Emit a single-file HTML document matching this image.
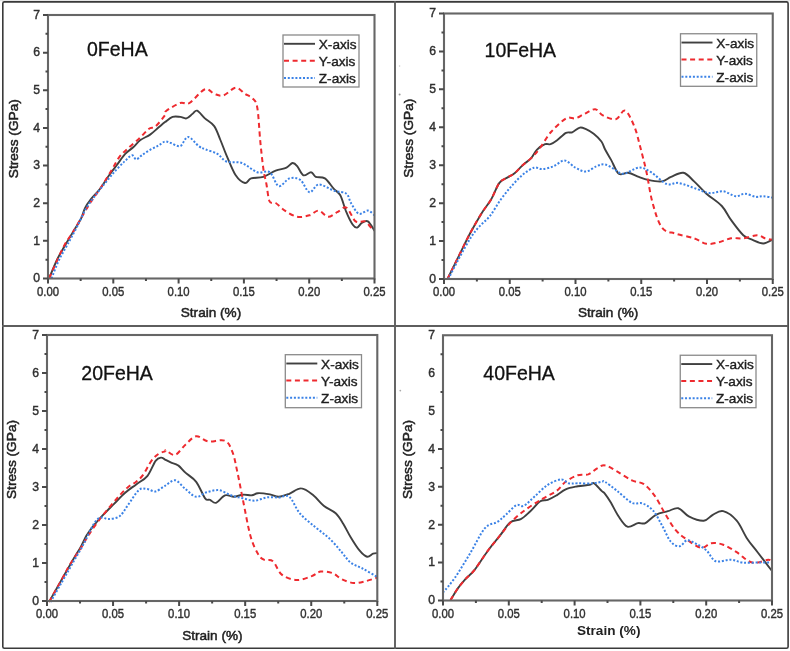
<!DOCTYPE html>
<html><head><meta charset="utf-8"><title>Stress-strain curves</title>
<style>
html,body{margin:0;padding:0;background:#fff;}
body{width:790px;height:651px;overflow:hidden;}
svg{display:block;filter:blur(0.3px);font-family:"Liberation Sans", sans-serif;}
</style></head><body>
<svg width="790" height="651" viewBox="0 0 790 651">
<rect x="0" y="0" width="790" height="651" fill="#fff"/>
<rect x="0" y="0" width="790" height="1.2" fill="#e6e6e6"/>
<rect x="2.8" y="1.9" width="785.3" height="646.4" fill="none" stroke="#3a3a3a" stroke-width="1.6" rx="1.6"/>
<circle cx="399.6" cy="94.4" r="1" fill="#999"/><circle cx="399.6" cy="66" r="0.8" fill="#ccc"/><circle cx="400.3" cy="390.6" r="0.9" fill="#aaa"/>
<line x1="395" y1="1" x2="395" y2="649" stroke="#5e5e5e" stroke-width="1.9"/>
<line x1="2" y1="326" x2="788" y2="326" stroke="#5e5e5e" stroke-width="1.9"/>
<g>
<path d="M49.1,278.3 C50.5,275.1 54.8,264.3 57.4,259.0 C60.0,253.7 61.9,250.9 64.4,246.5 C66.9,242.1 69.8,237.3 72.6,232.7 C75.3,228.1 78.8,223.1 80.9,218.9 C83.0,214.8 83.5,211.0 85.1,207.8 C86.7,204.6 88.1,202.7 90.6,199.5 C93.1,196.3 97.3,192.4 100.3,188.5 C103.3,184.6 105.8,179.9 108.6,176.0 C111.4,172.1 114.1,168.7 116.9,165.0 C119.7,161.3 122.4,156.9 125.2,153.9 C128.0,150.9 131.0,149.3 133.5,147.0 C136.0,144.7 137.6,142.2 140.4,140.1 C143.2,138.0 147.1,136.7 150.1,134.6 C153.1,132.5 155.9,129.7 158.4,127.6 C160.9,125.5 162.6,123.9 165.0,122.1 C167.4,120.3 170.0,117.8 172.6,116.9 C175.2,116.0 178.0,116.7 180.3,116.9 C182.6,117.2 184.4,118.9 186.4,118.4 C188.4,117.9 190.8,115.1 192.6,113.8 C194.4,112.5 195.1,109.9 197.2,110.7 C199.2,111.5 202.1,115.8 204.9,118.4 C207.7,121.0 211.6,122.5 214.2,126.1 C216.8,129.7 218.3,135.1 220.4,140.0 C222.5,144.9 223.9,149.4 226.5,155.3 C229.1,161.2 232.6,170.7 235.7,175.3 C238.8,179.9 242.4,182.5 245.0,183.0 C247.6,183.5 248.0,179.4 251.1,178.4 C254.2,177.4 259.3,178.1 263.4,176.8 C267.5,175.5 271.8,172.2 275.7,170.7 C279.6,169.2 283.7,168.9 286.5,167.6 C289.3,166.3 290.8,163.2 292.6,163.0 C294.4,162.8 295.4,164.0 297.2,166.1 C299.0,168.2 301.1,174.3 303.4,175.3 C305.7,176.3 309.1,171.9 311.1,172.2 C313.2,172.4 313.4,175.8 315.7,176.8 C318.0,177.8 321.8,176.4 324.9,178.4 C328.0,180.4 331.5,186.3 334.1,189.1 C336.7,191.9 338.2,191.5 340.3,195.3 C342.4,199.2 344.3,207.3 346.4,212.2 C348.4,217.1 350.8,221.9 352.6,224.5 C354.4,227.1 355.7,227.9 357.2,227.6 C358.7,227.3 360.0,223.9 361.8,222.9 C363.6,221.9 365.8,220.1 367.9,221.4 C370.0,222.7 373.4,229.1 374.5,230.6" fill="none" stroke="#404040" stroke-width="1.9"/>
<path d="M49.1,278.3 C50.0,276.2 52.2,271.4 54.7,265.9 C57.2,260.4 61.4,250.7 64.4,245.2 C67.4,239.7 69.6,237.5 72.6,232.7 C75.6,227.8 79.3,221.2 82.3,216.1 C85.3,211.0 87.6,206.9 90.6,202.3 C93.6,197.7 96.8,193.8 100.3,188.5 C103.8,183.2 108.2,175.8 111.4,170.5 C114.6,165.2 116.8,160.4 119.6,156.7 C122.3,153.0 124.7,151.4 127.9,148.4 C131.1,145.4 135.5,141.9 139.0,138.7 C142.5,135.5 145.9,131.1 148.7,129.0 C151.5,126.9 152.9,128.6 155.6,126.3 C158.3,124.0 163.2,117.8 165.0,115.2 C166.8,112.6 163.8,112.7 166.4,110.7 C169.0,108.7 176.5,104.3 180.3,103.0 C184.2,101.7 185.4,105.3 189.5,103.0 C193.6,100.7 200.8,90.7 204.9,89.2 C209.0,87.7 211.1,92.8 214.2,93.8 C217.3,94.8 219.8,96.4 223.4,95.4 C227.0,94.4 232.1,88.0 235.7,87.7 C239.3,87.4 242.2,92.0 245.0,93.8 C247.8,95.6 250.5,96.1 252.6,98.4 C254.7,100.7 256.0,100.5 257.3,107.7 C258.6,114.9 259.3,131.3 260.3,141.5 C261.3,151.7 262.4,161.9 263.4,169.1 C264.4,176.3 265.5,179.1 266.5,184.5 C267.5,189.9 268.1,198.3 269.6,201.4 C271.1,204.5 273.1,201.5 275.7,203.0 C278.2,204.5 281.3,208.3 284.9,210.6 C288.5,212.9 293.1,216.0 297.2,216.8 C301.3,217.6 305.9,216.3 309.5,215.3 C313.1,214.3 315.6,210.3 318.7,210.6 C321.8,210.8 324.9,216.5 328.0,216.8 C331.1,217.1 334.1,213.7 337.2,212.2 C340.3,210.7 343.3,206.1 346.4,207.6 C349.5,209.1 352.5,219.1 355.6,221.4 C358.7,223.7 362.3,220.4 364.9,221.4 C367.5,222.4 369.4,226.1 371.0,227.6 C372.6,229.1 373.9,230.1 374.5,230.6" fill="none" stroke="#ee2a2f" stroke-width="2" stroke-dasharray="5 3.6"/>
<path d="M51.5,278.3 C52.7,275.3 56.2,265.9 58.8,260.4 C61.4,254.9 64.1,250.7 67.1,245.2 C70.1,239.7 73.6,233.4 76.8,227.2 C80.0,221.0 83.0,213.6 86.5,207.8 C90.0,202.0 93.8,197.4 97.5,192.6 C101.2,187.8 105.4,182.7 108.6,178.8 C111.8,174.9 114.1,172.1 116.9,169.1 C119.7,166.1 122.7,163.1 125.2,160.8 C127.7,158.5 130.3,155.5 132.1,155.3 C133.9,155.1 134.6,159.4 136.2,159.4 C137.8,159.4 139.5,156.9 141.8,155.3 C144.1,153.7 147.3,151.4 150.1,149.8 C152.9,148.2 155.9,147.0 158.4,145.6 C160.9,144.2 162.9,141.9 165.0,141.5 C167.1,141.1 168.4,142.2 171.0,143.0 C173.6,143.8 177.5,147.1 180.3,146.1 C183.1,145.1 184.9,136.9 188.0,136.9 C191.1,136.9 195.9,144.1 198.7,146.1 C201.5,148.1 201.9,147.9 205.0,149.2 C208.1,150.5 213.7,151.8 217.3,153.8 C220.9,155.9 222.4,160.0 226.5,161.5 C230.6,163.0 236.8,161.2 241.9,163.0 C247.0,164.8 252.7,170.7 257.3,172.2 C261.9,173.7 266.0,169.9 269.6,172.2 C273.2,174.5 275.5,185.1 278.8,186.1 C282.1,187.1 285.9,179.4 289.5,178.4 C293.1,177.4 297.0,177.6 300.3,179.9 C303.6,182.2 306.4,191.4 309.5,192.2 C312.6,193.0 314.6,184.8 318.7,184.5 C322.8,184.2 329.5,189.2 334.1,190.7 C338.7,192.2 343.6,191.6 346.4,193.7 C349.2,195.8 348.9,199.7 351.0,203.0 C353.1,206.3 355.9,212.4 358.7,213.7 C361.5,215.0 365.3,210.3 367.9,210.6 C370.5,210.9 373.4,214.5 374.5,215.3" fill="none" stroke="#3b82e6" stroke-width="2" stroke-dasharray="2 1.8"/>
<rect x="48" y="15" width="326.50" height="263.50" fill="none" stroke="#666" stroke-width="2.1"/>
<path d="M43.0,278.50H48M45.5,259.68H48M43.0,240.86H48M45.5,222.04H48M43.0,203.21H48M45.5,184.39H48M43.0,165.57H48M45.5,146.75H48M43.0,127.93H48M45.5,109.11H48M43.0,90.29H48M45.5,71.46H48M43.0,52.64H48M45.5,33.82H48M43.0,15.00H48M48.00,278.5V283.5M80.65,278.5V281.0M113.30,278.5V283.5M145.95,278.5V281.0M178.60,278.5V283.5M211.25,278.5V281.0M243.90,278.5V283.5M276.55,278.5V281.0M309.20,278.5V283.5M341.85,278.5V281.0M374.50,278.5V283.5" stroke="#4a4a4a" stroke-width="2" fill="none"/>
<g font-size="12.2" fill="#303030" stroke="#303030" stroke-width="0.4" text-anchor="end"><text x="40.0" y="282.30">0</text><text x="40.0" y="244.66">1</text><text x="40.0" y="207.01">2</text><text x="40.0" y="169.37">3</text><text x="40.0" y="131.73">4</text><text x="40.0" y="94.09">5</text><text x="40.0" y="56.44">6</text><text x="40.0" y="18.80">7</text></g>
<g font-size="12.3" fill="#303030" stroke="#303030" stroke-width="0.4" text-anchor="middle"><text x="48.00" y="295.9" textLength="22" lengthAdjust="spacingAndGlyphs">0.00</text><text x="113.30" y="295.9" textLength="22" lengthAdjust="spacingAndGlyphs">0.05</text><text x="178.60" y="295.9" textLength="22" lengthAdjust="spacingAndGlyphs">0.10</text><text x="243.90" y="295.9" textLength="22" lengthAdjust="spacingAndGlyphs">0.15</text><text x="309.20" y="295.9" textLength="22" lengthAdjust="spacingAndGlyphs">0.20</text><text x="374.50" y="295.9" textLength="22" lengthAdjust="spacingAndGlyphs">0.25</text></g>
<text transform="translate(18.1,138.7) rotate(-90)" font-size="13.7" fill="#222" stroke="#222" stroke-width="0.5" text-anchor="middle">Stress (GPa)</text>
<text x="211.0" y="317.0" font-size="13.6" font-weight="normal" fill="#222" stroke="#222" stroke-width="0.5" text-anchor="middle">Strain (%)</text>
<text x="87.0" y="56" font-size="19.5" fill="#111" stroke="#111" stroke-width="0.3">0FeHA</text>
<rect x="283" y="35" width="76.00" height="52.00" fill="#fff" stroke="#8a8a8a" stroke-width="1.3"/>
<line x1="284" y1="43.8" x2="315" y2="43.8" stroke="#404040" stroke-width="1.9"/>
<line x1="284" y1="60.8" x2="315" y2="60.8" stroke="#ee2a2f" stroke-width="2" stroke-dasharray="5 3.6"/>
<line x1="284" y1="78" x2="315" y2="78" stroke="#3b82e6" stroke-width="2" stroke-dasharray="2 1.8"/>
<g font-size="13.6" fill="#1e1e1e" stroke="#1e1e1e" stroke-width="0.4"><text x="318.8" y="48.8">X-axis</text><text x="318.8" y="65.8">Y-axis</text><text x="318.8" y="83.0">Z-axis</text></g>
</g>
<g>
<path d="M447.5,279.0 C449.5,275.0 455.6,262.5 459.4,254.8 C463.2,247.1 466.7,239.6 470.4,232.7 C474.1,225.8 478.1,218.9 481.5,213.4 C484.9,207.9 488.1,204.6 491.1,199.5 C494.1,194.4 496.6,186.6 499.4,182.9 C502.2,179.2 505.2,179.0 507.7,177.4 C510.2,175.8 512.1,175.4 514.6,173.3 C517.1,171.2 520.1,167.5 522.9,165.0 C525.7,162.5 528.9,160.6 531.2,158.1 C533.5,155.6 534.5,152.1 536.8,149.8 C539.1,147.5 542.8,145.1 545.1,144.2 C547.4,143.3 548.7,144.8 550.6,144.2 C552.5,143.6 554.2,142.4 556.8,140.5 C559.4,138.6 563.4,134.3 566.0,132.9 C568.6,131.5 569.9,133.2 572.2,132.3 C574.5,131.4 577.6,128.1 579.9,127.6 C582.2,127.1 583.7,128.2 586.0,129.2 C588.3,130.2 591.1,131.8 593.7,133.8 C596.3,135.9 599.5,138.9 601.4,141.5 C603.3,144.1 603.4,146.1 605.0,149.2 C606.6,152.3 608.8,155.8 611.1,159.9 C613.4,164.0 616.0,171.7 618.8,173.8 C621.6,176.0 624.8,172.3 628.1,172.8 C631.4,173.3 635.5,175.6 638.8,176.8 C642.1,178.0 644.1,179.1 648.0,179.9 C651.9,180.7 658.0,181.9 661.9,181.4 C665.8,180.9 667.5,178.2 671.1,176.8 C674.7,175.4 679.6,172.0 683.4,172.8 C687.2,173.6 690.3,177.9 694.1,181.4 C697.9,184.9 701.8,189.6 706.4,193.7 C711.0,197.8 717.7,201.6 721.8,206.0 C725.9,210.4 727.4,215.0 731.0,219.9 C734.6,224.8 739.7,231.9 743.3,235.2 C746.9,238.5 749.3,238.5 752.6,239.9 C755.9,241.3 759.9,243.6 763.3,243.5 C766.7,243.4 771.2,240.2 772.8,239.5" fill="none" stroke="#404040" stroke-width="1.9"/>
<path d="M447.5,279.0 C449.5,275.0 455.6,262.5 459.4,254.8 C463.2,247.1 466.7,239.6 470.4,232.7 C474.1,225.8 478.1,218.9 481.5,213.4 C484.9,207.9 488.1,204.6 491.1,199.5 C494.1,194.4 496.6,186.6 499.4,182.9 C502.2,179.2 505.2,179.0 507.7,177.4 C510.2,175.8 512.1,175.4 514.6,173.3 C517.1,171.2 520.1,167.5 522.9,165.0 C525.7,162.5 528.4,160.9 531.2,158.1 C534.1,155.3 536.7,152.3 540.0,148.0 C543.3,143.7 546.7,136.9 551.0,132.0 C555.3,127.1 562.0,120.7 566.0,118.4 C570.0,116.1 572.2,119.2 575.3,118.4 C578.4,117.6 581.2,115.3 584.5,113.8 C587.8,112.3 592.1,108.9 595.2,109.2 C598.3,109.5 599.5,113.7 602.9,115.4 C606.3,117.1 612.1,120.1 615.8,119.3 C619.5,118.5 621.9,109.6 625.0,110.7 C628.1,111.8 631.6,119.9 634.2,126.1 C636.8,132.2 638.4,139.9 640.4,147.6 C642.4,155.3 644.5,163.0 646.5,172.2 C648.5,181.4 650.0,193.8 652.6,203.0 C655.2,212.2 658.0,222.5 661.9,227.6 C665.8,232.7 670.3,231.9 675.7,233.7 C681.1,235.5 689.0,236.6 694.1,238.3 C699.2,240.0 702.3,243.1 706.4,243.8 C710.5,244.5 714.6,243.2 718.7,242.3 C722.8,241.4 726.9,239.0 731.0,238.3 C735.1,237.6 738.9,238.8 743.3,238.3 C747.7,237.8 753.6,235.2 757.2,235.2 C760.8,235.2 762.3,237.5 764.9,238.3 C767.5,239.1 771.4,239.6 772.8,239.9" fill="none" stroke="#ee2a2f" stroke-width="2" stroke-dasharray="5 3.6"/>
<path d="M448.3,279.0 C450.1,275.4 455.7,264.4 459.4,257.6 C463.1,250.8 467.2,243.3 470.4,238.2 C473.6,233.1 475.5,230.9 478.7,227.2 C481.9,223.5 486.1,220.7 489.8,216.1 C493.5,211.5 497.1,204.6 500.8,199.5 C504.5,194.4 508.2,189.8 511.9,185.7 C515.6,181.5 519.2,177.6 522.9,174.6 C526.6,171.6 530.8,168.6 534.0,167.7 C537.2,166.8 539.1,169.3 542.3,169.1 C545.5,168.9 549.7,167.8 553.4,166.4 C557.1,165.0 560.9,160.3 564.5,160.5 C568.1,160.7 571.7,165.8 575.3,167.6 C578.9,169.4 582.4,171.8 586.0,171.6 C589.6,171.3 593.6,167.3 596.8,166.1 C600.0,164.9 602.1,164.0 605.0,164.5 C607.9,165.0 611.1,167.5 614.2,169.1 C617.3,170.7 619.3,174.1 623.4,173.8 C627.5,173.6 634.2,167.9 638.8,167.6 C643.4,167.3 646.5,169.5 651.1,172.2 C655.7,174.9 661.9,182.1 666.5,183.9 C671.1,185.7 673.7,182.1 678.8,183.0 C683.9,183.9 692.1,187.4 697.2,189.1 C702.3,190.8 705.1,192.7 709.5,193.1 C713.9,193.5 718.9,190.8 723.3,191.3 C727.6,191.8 732.0,195.8 735.6,196.2 C739.2,196.6 741.6,193.6 744.9,193.7 C748.2,193.8 752.5,196.4 755.6,196.8 C758.7,197.2 760.4,196.0 763.3,196.2 C766.2,196.3 771.2,197.4 772.8,197.7" fill="none" stroke="#3b82e6" stroke-width="2" stroke-dasharray="2 1.8"/>
<rect x="444" y="13.5" width="328.75" height="265.50" fill="none" stroke="#666" stroke-width="2.1"/>
<path d="M439.0,279.00H444M441.5,260.04H444M439.0,241.07H444M441.5,222.11H444M439.0,203.14H444M441.5,184.18H444M439.0,165.21H444M441.5,146.25H444M439.0,127.29H444M441.5,108.32H444M439.0,89.36H444M441.5,70.39H444M439.0,51.43H444M441.5,32.46H444M439.0,13.50H444M444.00,279V284.0M476.88,279V281.5M509.75,279V284.0M542.62,279V281.5M575.50,279V284.0M608.38,279V281.5M641.25,279V284.0M674.12,279V281.5M707.00,279V284.0M739.88,279V281.5M772.75,279V284.0" stroke="#4a4a4a" stroke-width="2" fill="none"/>
<g font-size="12.2" fill="#303030" stroke="#303030" stroke-width="0.4" text-anchor="end"><text x="436.0" y="282.80">0</text><text x="436.0" y="244.87">1</text><text x="436.0" y="206.94">2</text><text x="436.0" y="169.01">3</text><text x="436.0" y="131.09">4</text><text x="436.0" y="93.16">5</text><text x="436.0" y="55.23">6</text><text x="436.0" y="17.30">7</text></g>
<g font-size="12.3" fill="#303030" stroke="#303030" stroke-width="0.4" text-anchor="middle"><text x="444.00" y="296.4" textLength="22" lengthAdjust="spacingAndGlyphs">0.00</text><text x="509.75" y="296.4" textLength="22" lengthAdjust="spacingAndGlyphs">0.05</text><text x="575.50" y="296.4" textLength="22" lengthAdjust="spacingAndGlyphs">0.10</text><text x="641.25" y="296.4" textLength="22" lengthAdjust="spacingAndGlyphs">0.15</text><text x="707.00" y="296.4" textLength="22" lengthAdjust="spacingAndGlyphs">0.20</text><text x="772.75" y="296.4" textLength="22" lengthAdjust="spacingAndGlyphs">0.25</text></g>
<text transform="translate(412.7,138.2) rotate(-90)" font-size="13.7" fill="#222" stroke="#222" stroke-width="0.5" text-anchor="middle">Stress (GPa)</text>
<text x="608.1" y="317.4" font-size="13.6" font-weight="normal" fill="#222" stroke="#222" stroke-width="0.5" text-anchor="middle">Strain (%)</text>
<text x="484.6" y="56.5" font-size="19.5" fill="#111" stroke="#111" stroke-width="0.3">10FeHA</text>
<rect x="680.5" y="33.75" width="76.25" height="52.55" fill="#fff" stroke="#8a8a8a" stroke-width="1.3"/>
<line x1="681.5" y1="42.55" x2="712.5" y2="42.55" stroke="#404040" stroke-width="1.9"/>
<line x1="681.5" y1="59.55" x2="712.5" y2="59.55" stroke="#ee2a2f" stroke-width="2" stroke-dasharray="5 3.6"/>
<line x1="681.5" y1="76.75" x2="712.5" y2="76.75" stroke="#3b82e6" stroke-width="2" stroke-dasharray="2 1.8"/>
<g font-size="13.6" fill="#1e1e1e" stroke="#1e1e1e" stroke-width="0.4"><text x="716.3" y="47.5">X-axis</text><text x="716.3" y="64.5">Y-axis</text><text x="716.3" y="81.8">Z-axis</text></g>
</g>
<g>
<path d="M49.1,601.9 C51.2,598.2 57.7,586.7 61.6,579.8 C65.5,572.9 69.4,566.0 72.6,560.5 C75.8,555.0 78.6,550.8 80.9,546.6 C83.2,542.5 84.4,539.1 86.5,535.6 C88.6,532.1 90.6,529.4 93.4,525.9 C96.2,522.4 99.6,518.6 103.1,514.9 C106.5,511.2 110.4,507.5 114.1,503.8 C117.8,500.1 121.5,495.9 125.2,492.7 C128.9,489.5 132.5,487.2 136.2,484.4 C139.9,481.6 144.1,480.0 147.3,476.1 C150.5,472.2 153.3,464.0 155.6,460.9 C157.9,457.8 159.5,457.8 161.1,457.6 C162.7,457.4 163.4,458.8 165.0,459.6 C166.6,460.4 168.5,461.4 170.7,462.4 C172.9,463.4 175.7,463.6 178.2,465.4 C180.7,467.1 182.7,470.2 185.7,472.9 C188.7,475.6 193.0,477.6 196.2,481.8 C199.4,486.0 202.8,495.3 205.1,498.3 C207.4,501.3 208.2,499.1 210.0,499.8 C211.8,500.6 213.5,503.6 216.0,502.8 C218.5,502.1 222.0,496.3 225.0,495.3 C228.0,494.3 230.9,496.9 233.9,496.8 C236.9,496.7 239.9,494.9 242.9,494.7 C245.9,494.4 249.4,495.6 251.9,495.3 C254.4,495.1 254.9,493.4 257.9,493.2 C260.9,493.0 266.4,493.8 269.9,494.4 C273.4,495.0 275.6,496.9 278.8,496.8 C282.0,496.7 285.6,495.2 289.3,493.8 C293.1,492.4 297.3,488.1 301.3,488.4 C305.3,488.6 309.6,492.4 313.3,495.3 C317.0,498.2 320.0,502.8 323.7,505.8 C327.4,508.8 332.4,510.3 335.7,513.3 C338.9,516.3 340.7,519.7 343.2,523.7 C345.7,527.7 347.9,532.7 350.7,537.2 C353.4,541.7 357.0,547.5 359.7,550.7 C362.4,554.0 364.9,556.2 367.1,556.7 C369.3,557.2 371.4,554.3 373.1,553.7 C374.8,553.1 376.6,553.2 377.3,553.1" fill="none" stroke="#404040" stroke-width="1.9"/>
<path d="M49.1,601.9 C51.2,598.2 58.1,586.0 61.6,579.8 C65.1,573.6 66.7,569.9 69.9,564.6 C73.1,559.3 77.7,553.1 80.9,548.0 C84.1,542.9 86.2,538.8 89.2,534.2 C92.2,529.6 95.4,525.0 98.9,520.4 C102.4,515.8 106.5,510.8 110.0,506.6 C113.5,502.5 116.6,498.7 119.6,495.5 C122.6,492.3 125.1,489.5 127.9,487.2 C130.7,484.9 133.7,483.8 136.2,481.7 C138.7,479.6 140.6,478.3 143.1,474.8 C145.6,471.3 148.8,464.4 151.4,460.9 C154.0,457.4 156.1,455.6 158.4,454.0 C160.7,452.4 163.7,451.9 165.0,451.3 C166.3,450.7 164.5,449.8 166.2,450.4 C167.9,451.0 171.9,455.9 175.2,454.9 C178.4,453.9 182.2,447.5 185.7,444.4 C189.2,441.3 192.5,436.8 196.2,436.3 C199.9,435.8 203.3,440.6 208.1,441.4 C212.9,442.1 220.9,439.1 225.0,440.8 C229.1,442.6 230.4,447.0 232.4,451.9 C234.4,456.8 235.2,461.9 236.9,469.9 C238.7,477.9 240.7,488.8 242.9,499.8 C245.2,510.8 247.9,526.7 250.4,535.7 C252.9,544.7 255.6,549.7 257.9,553.7 C260.1,557.7 261.4,558.5 263.9,559.7 C266.4,561.0 269.9,558.7 272.9,561.2 C275.9,563.7 277.8,571.5 281.8,574.6 C285.8,577.7 291.8,579.8 296.8,580.0 C301.8,580.2 307.8,577.5 311.8,576.1 C315.8,574.7 317.2,572.1 320.7,571.6 C324.2,571.1 329.2,571.9 332.7,573.1 C336.2,574.4 338.2,577.5 341.7,579.1 C345.2,580.8 349.7,582.6 353.7,583.0 C357.7,583.4 361.7,582.1 365.6,581.2 C369.5,580.3 375.4,578.2 377.3,577.6" fill="none" stroke="#ee2a2f" stroke-width="2" stroke-dasharray="5 3.6"/>
<path d="M50.5,601.9 C52.4,598.7 57.9,589.0 61.6,582.6 C65.3,576.2 68.9,569.7 72.6,563.2 C76.3,556.8 80.2,550.4 83.7,543.9 C87.2,537.4 90.6,528.9 93.4,524.5 C96.2,520.1 97.8,518.5 100.3,517.6 C102.8,516.7 105.4,519.2 108.6,519.0 C111.8,518.8 116.4,518.5 119.6,516.2 C122.8,513.9 124.7,509.6 127.9,505.2 C131.1,500.8 135.8,492.7 139.0,490.0 C142.2,487.3 144.5,488.9 147.3,489.1 C150.1,489.3 152.7,491.9 155.6,491.4 C158.5,490.8 161.7,487.6 165.0,485.8 C168.3,484.0 171.8,479.7 175.2,480.3 C178.6,480.9 182.2,486.6 185.7,489.3 C189.2,492.1 192.7,496.3 196.2,496.8 C199.7,497.3 202.8,493.4 206.6,492.3 C210.4,491.2 214.9,489.7 219.0,490.2 C223.1,490.7 227.0,493.9 231.0,495.3 C235.0,496.7 238.9,497.4 242.9,498.3 C246.9,499.2 250.9,500.9 254.9,500.7 C258.9,500.5 262.9,497.9 266.9,497.4 C270.9,496.8 275.1,497.5 278.8,497.4 C282.5,497.3 285.8,494.2 289.3,496.8 C292.8,499.4 295.6,508.3 299.8,513.3 C304.1,518.3 309.8,522.5 314.8,526.7 C319.8,530.9 325.2,534.5 329.7,538.7 C334.2,543.0 338.2,548.2 341.7,552.2 C345.2,556.2 347.2,559.9 350.7,562.6 C354.2,565.3 358.3,566.2 362.7,568.6 C367.1,571.0 374.9,575.6 377.3,577.0" fill="none" stroke="#3b82e6" stroke-width="2" stroke-dasharray="2 1.8"/>
<rect x="47" y="335" width="330.30" height="266.00" fill="none" stroke="#666" stroke-width="2.1"/>
<path d="M42.0,601.00H47M44.5,582.00H47M42.0,563.00H47M44.5,544.00H47M42.0,525.00H47M44.5,506.00H47M42.0,487.00H47M44.5,468.00H47M42.0,449.00H47M44.5,430.00H47M42.0,411.00H47M44.5,392.00H47M42.0,373.00H47M44.5,354.00H47M42.0,335.00H47M47.00,601V606.0M80.03,601V603.5M113.06,601V606.0M146.09,601V603.5M179.12,601V606.0M212.15,601V603.5M245.18,601V606.0M278.21,601V603.5M311.24,601V606.0M344.27,601V603.5M377.30,601V606.0" stroke="#4a4a4a" stroke-width="2" fill="none"/>
<g font-size="12.2" fill="#303030" stroke="#303030" stroke-width="0.4" text-anchor="end"><text x="39.0" y="604.80">0</text><text x="39.0" y="566.80">1</text><text x="39.0" y="528.80">2</text><text x="39.0" y="490.80">3</text><text x="39.0" y="452.80">4</text><text x="39.0" y="414.80">5</text><text x="39.0" y="376.80">6</text><text x="39.0" y="338.80">7</text></g>
<g font-size="12.3" fill="#303030" stroke="#303030" stroke-width="0.4" text-anchor="middle"><text x="47.00" y="618.4" textLength="22" lengthAdjust="spacingAndGlyphs">0.00</text><text x="113.06" y="618.4" textLength="22" lengthAdjust="spacingAndGlyphs">0.05</text><text x="179.12" y="618.4" textLength="22" lengthAdjust="spacingAndGlyphs">0.10</text><text x="245.18" y="618.4" textLength="22" lengthAdjust="spacingAndGlyphs">0.15</text><text x="311.24" y="618.4" textLength="22" lengthAdjust="spacingAndGlyphs">0.20</text><text x="377.30" y="618.4" textLength="22" lengthAdjust="spacingAndGlyphs">0.25</text></g>
<text transform="translate(15.7,459.5) rotate(-90)" font-size="13.7" fill="#222" stroke="#222" stroke-width="0.5" text-anchor="middle">Stress (GPa)</text>
<text x="212.4" y="640.4" font-size="13.6" font-weight="normal" fill="#222" stroke="#222" stroke-width="0.5" text-anchor="middle">Strain (%)</text>
<text x="81.3" y="379.5" font-size="19.5" fill="#111" stroke="#111" stroke-width="0.3">20FeHA</text>
<rect x="285.3" y="354.7" width="76.20" height="53.00" fill="#fff" stroke="#8a8a8a" stroke-width="1.3"/>
<line x1="286.3" y1="363.5" x2="317.3" y2="363.5" stroke="#404040" stroke-width="1.9"/>
<line x1="286.3" y1="380.5" x2="317.3" y2="380.5" stroke="#ee2a2f" stroke-width="2" stroke-dasharray="5 3.6"/>
<line x1="286.3" y1="397.7" x2="317.3" y2="397.7" stroke="#3b82e6" stroke-width="2" stroke-dasharray="2 1.8"/>
<g font-size="13.6" fill="#1e1e1e" stroke="#1e1e1e" stroke-width="0.4"><text x="321.1" y="368.5">X-axis</text><text x="321.1" y="385.5">Y-axis</text><text x="321.1" y="402.7">Z-axis</text></g>
</g>
<g>
<path d="M450.5,600.1 C451.8,598.1 455.5,591.6 458.0,588.1 C460.5,584.6 462.7,582.1 465.4,579.1 C468.1,576.1 470.6,574.8 474.4,570.1 C478.1,565.4 483.6,556.4 487.9,550.7 C492.1,545.0 496.2,540.5 499.9,535.7 C503.6,531.0 506.8,525.0 510.3,522.2 C513.8,519.5 517.5,520.9 520.8,519.2 C524.0,517.5 526.5,514.8 529.8,511.8 C533.0,508.8 537.3,503.3 540.3,501.3 C543.3,499.3 545.1,500.8 547.8,499.8 C550.5,498.8 553.7,497.1 556.7,495.3 C559.7,493.6 562.2,490.8 565.7,489.3 C569.2,487.8 573.7,487.1 577.7,486.3 C581.7,485.6 587.0,485.3 589.7,484.8 C592.4,484.3 592.1,482.3 594.1,483.3 C596.1,484.3 599.8,489.1 601.6,490.8 C603.4,492.6 603.4,491.8 605.0,493.8 C606.6,495.8 608.8,499.1 611.0,502.8 C613.2,506.6 615.8,512.3 618.5,516.3 C621.2,520.3 624.2,525.6 627.4,526.7 C630.6,527.8 634.9,523.7 637.9,523.1 C640.9,522.5 642.4,524.5 645.4,523.1 C648.4,521.7 652.1,516.8 655.9,514.8 C659.6,512.8 664.2,512.3 667.9,511.2 C671.6,510.1 674.8,507.4 678.3,508.2 C681.8,509.0 684.5,514.2 688.8,516.3 C693.0,518.4 699.8,521.0 703.8,520.7 C707.8,520.5 709.6,516.4 712.8,514.8 C716.0,513.2 719.2,510.2 723.2,511.2 C727.2,512.2 732.7,516.1 736.7,520.7 C740.7,525.3 743.7,533.5 747.2,538.7 C750.7,544.0 753.5,546.8 757.6,552.2 C761.7,557.6 769.6,567.9 772.0,571.0" fill="none" stroke="#404040" stroke-width="1.9"/>
<path d="M450.5,600.1 C451.8,598.1 455.5,591.6 458.0,588.1 C460.5,584.6 462.7,582.1 465.4,579.1 C468.1,576.1 470.6,574.8 474.4,570.1 C478.1,565.4 483.6,556.4 487.9,550.7 C492.1,545.0 495.9,540.6 499.9,535.7 C503.9,530.8 507.3,525.8 511.8,521.3 C516.3,516.8 521.5,512.6 526.8,508.8 C532.0,505.0 538.3,501.3 543.3,498.3 C548.3,495.3 553.0,493.6 556.7,490.8 C560.4,488.1 562.2,484.4 565.7,481.8 C569.2,479.2 574.0,476.5 577.7,475.3 C581.5,474.1 585.0,475.5 588.2,474.4 C591.4,473.2 594.3,469.9 597.1,468.4 C599.9,466.9 601.7,464.9 605.0,465.4 C608.3,465.9 612.5,468.9 617.0,471.4 C621.5,473.9 627.4,478.2 631.9,480.3 C636.4,482.4 640.1,481.7 643.9,484.2 C647.6,486.7 650.9,490.5 654.4,495.3 C657.9,500.1 661.4,507.6 664.9,513.3 C668.4,519.0 671.8,525.5 675.3,529.7 C678.8,533.9 681.5,535.7 685.8,538.7 C690.0,541.7 696.5,547.0 700.8,547.7 C705.0,548.5 707.6,543.7 711.3,543.2 C715.0,542.7 719.0,543.2 723.2,544.7 C727.4,546.2 732.5,549.5 736.7,552.2 C741.0,555.0 745.2,559.5 748.7,561.2 C752.2,562.9 754.4,562.9 757.6,562.6 C760.8,562.4 765.7,559.9 768.1,559.7 C770.5,559.5 771.4,561.0 772.0,561.2" fill="none" stroke="#ee2a2f" stroke-width="2" stroke-dasharray="5 3.6"/>
<path d="M443.0,592.6 C445.0,590.1 450.5,584.1 455.0,577.6 C459.5,571.1 464.9,561.9 469.9,553.7 C474.9,545.5 480.4,533.5 484.9,528.2 C489.4,523.0 493.4,524.4 496.9,522.2 C500.4,520.0 502.6,517.6 505.8,514.8 C509.0,512.0 513.3,506.7 516.3,505.2 C519.3,503.7 520.8,507.2 523.8,505.8 C526.8,504.4 530.3,500.3 534.3,496.8 C538.3,493.3 543.3,487.7 547.8,484.8 C552.3,481.9 557.7,479.6 561.2,479.4 C564.7,479.1 566.0,482.6 568.7,483.3 C571.5,484.0 573.7,483.3 577.7,483.3 C581.7,483.3 588.6,483.6 592.6,483.3 C596.6,483.1 599.5,482.1 601.6,481.8 C603.7,481.6 602.4,480.3 605.0,481.8 C607.6,483.3 612.5,487.3 617.0,490.8 C621.5,494.3 627.7,500.7 631.9,502.8 C636.1,504.9 638.9,502.1 642.4,503.4 C645.9,504.6 649.6,506.7 652.9,510.3 C656.1,513.9 658.9,520.0 661.9,525.2 C664.9,530.4 667.8,538.2 670.8,541.7 C673.8,545.2 677.0,546.5 679.8,546.2 C682.5,546.0 684.3,540.5 687.3,540.2 C690.3,540.0 694.5,543.0 697.8,544.7 C701.0,546.5 703.8,548.0 706.8,550.7 C709.8,553.5 711.7,559.7 715.7,561.2 C719.7,562.7 726.2,559.5 730.7,559.7 C735.2,559.9 738.2,562.1 742.7,562.6 C747.2,563.1 752.7,562.6 757.6,562.6 C762.5,562.6 769.6,562.6 772.0,562.6" fill="none" stroke="#3b82e6" stroke-width="2" stroke-dasharray="2 1.8"/>
<rect x="443" y="335.25" width="329.00" height="265.25" fill="none" stroke="#666" stroke-width="2.1"/>
<path d="M438.0,600.50H443M440.5,581.55H443M438.0,562.61H443M440.5,543.66H443M438.0,524.71H443M440.5,505.77H443M438.0,486.82H443M440.5,467.88H443M438.0,448.93H443M440.5,429.98H443M440.5,392.09H443M440.5,354.20H443M443.00,600.5V605.5M475.90,600.5V603.0M508.80,600.5V605.5M541.70,600.5V603.0M574.60,600.5V605.5M607.50,600.5V603.0M640.40,600.5V605.5M673.30,600.5V603.0M706.20,600.5V605.5M739.10,600.5V603.0M772.00,600.5V605.5" stroke="#4a4a4a" stroke-width="2" fill="none"/>
<g font-size="12.2" fill="#303030" stroke="#303030" stroke-width="0.4" text-anchor="end"><text x="435.0" y="604.30">0</text><text x="435.0" y="566.41">1</text><text x="435.0" y="528.51">2</text><text x="435.0" y="490.62">3</text><text x="435.0" y="452.73">4</text><text x="435.0" y="414.84">5</text><text x="435.0" y="376.94">6</text><text x="435.0" y="339.05">7</text></g>
<g font-size="12.3" fill="#303030" stroke="#303030" stroke-width="0.4" text-anchor="middle"><text x="443.00" y="617.9" textLength="22" lengthAdjust="spacingAndGlyphs">0.00</text><text x="508.80" y="617.9" textLength="22" lengthAdjust="spacingAndGlyphs">0.05</text><text x="574.60" y="617.9" textLength="22" lengthAdjust="spacingAndGlyphs">0.10</text><text x="640.40" y="617.9" textLength="22" lengthAdjust="spacingAndGlyphs">0.15</text><text x="706.20" y="617.9" textLength="22" lengthAdjust="spacingAndGlyphs">0.20</text><text x="772.00" y="617.9" textLength="22" lengthAdjust="spacingAndGlyphs">0.25</text></g>
<text transform="translate(411.7,459.5) rotate(-90)" font-size="13.7" fill="#222" stroke="#222" stroke-width="0.5" text-anchor="middle">Stress (GPa)</text>
<text x="608.7" y="635" font-size="13.6" font-weight="bold" fill="#222" stroke="#222" stroke-width="0" text-anchor="middle">Strain (%)</text>
<text x="483.3" y="379.8" font-size="19.5" fill="#111" stroke="#111" stroke-width="0.3">40FeHA</text>
<rect x="680.25" y="355.25" width="75.75" height="52.45" fill="#fff" stroke="#8a8a8a" stroke-width="1.3"/>
<line x1="681.25" y1="364.05" x2="712.25" y2="364.05" stroke="#404040" stroke-width="1.9"/>
<line x1="681.25" y1="381.05" x2="712.25" y2="381.05" stroke="#ee2a2f" stroke-width="2" stroke-dasharray="5 3.6"/>
<line x1="681.25" y1="398.25" x2="712.25" y2="398.25" stroke="#3b82e6" stroke-width="2" stroke-dasharray="2 1.8"/>
<g font-size="13.6" fill="#1e1e1e" stroke="#1e1e1e" stroke-width="0.4"><text x="716.0" y="369.1">X-axis</text><text x="716.0" y="386.1">Y-axis</text><text x="716.0" y="403.2">Z-axis</text></g>
</g>
</svg>
</body></html>
